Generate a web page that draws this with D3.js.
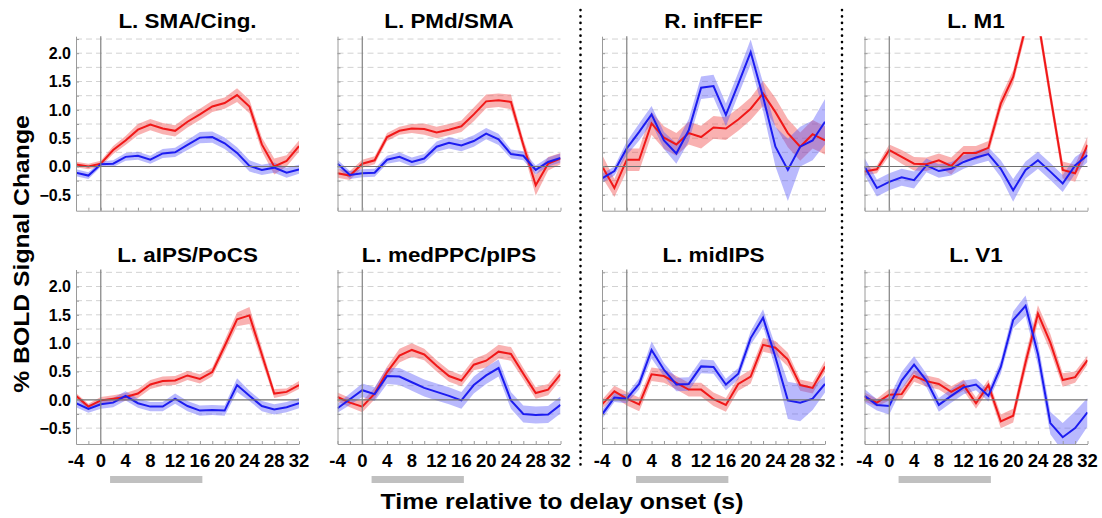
<!DOCTYPE html>
<html><head><meta charset="utf-8">
<script src="https://cdn.jsdelivr.net/npm/d3@7"></script>
<style>
body{margin:0;background:#fff}
svg{display:block}
text{font-family:"Liberation Sans",Arial,Helvetica,sans-serif;font-weight:bold;fill:#000}
</style>
</head><body>
<svg id="chart" width="1102" height="518"></svg>
<script>
// ---------- data ----------
const times = [-4,-2,0,2,4,6,8,10,12,14,16,18,20,22,24,26,28,30,32];
const xTickValues = [-4,0,4,8,12,16,20,24,28,32];
const yTickValues = [-0.5,0,0.5,1,1.5,2];
const gridValues = [-0.5,-0.25,0.25,0.5,0.75,1,1.25,1.5,1.75,2,2.25];
const titles = ["L. SMA/Cing.","L. PMd/SMA","R. infFEF","L. M1","L. aIPS/PoCS","L. medPPC/pIPS","L. midIPS","L. V1"];
const delayPeriod = [1.5, 16.4];

const smaRed    = [0.035,0.0,0.05,0.29,0.46,0.65,0.74,0.67,0.63,0.79,0.92,1.06,1.12,1.26,1.06,0.39,0.0,0.1,0.36];
const smaRedSE  = [0.05,0.05,0.05,0.07,0.08,0.1,0.1,0.1,0.1,0.1,0.1,0.1,0.1,0.12,0.12,0.12,0.14,0.1,0.1];
const smaBlue   = [-0.11,-0.16,0.04,0.05,0.17,0.19,0.12,0.23,0.25,0.38,0.51,0.52,0.41,0.24,0.01,-0.06,-0.02,-0.11,-0.05];
const smaBlueSE = [0.06,0.06,0.05,0.06,0.07,0.07,0.07,0.08,0.08,0.09,0.1,0.1,0.1,0.1,0.1,0.09,0.09,0.09,0.08];

const pmdRed    = [-0.12,-0.16,0.05,0.11,0.52,0.63,0.67,0.66,0.6,0.65,0.71,0.92,1.15,1.17,1.14,0.38,-0.33,0.05,0.14];
const pmdRedSE  = [0.08,0.08,0.07,0.07,0.07,0.07,0.08,0.1,0.1,0.1,0.1,0.12,0.12,0.12,0.13,0.1,0.18,0.12,0.1];
const pmdBlue   = [0.05,-0.15,-0.12,-0.11,0.12,0.17,0.08,0.14,0.35,0.42,0.37,0.45,0.58,0.48,0.22,0.19,-0.06,0.08,0.15];
const pmdBlueSE = [0.07,0.07,0.07,0.07,0.07,0.08,0.08,0.08,0.09,0.1,0.1,0.1,0.1,0.1,0.08,0.08,0.08,0.08,0.08];

const fefRed    = [0.01,-0.38,0.12,0.12,0.76,0.51,0.39,0.59,0.52,0.69,0.67,0.83,1.02,1.29,0.96,0.59,0.35,0.57,0.46];
const fefRedSE  = [0.2,0.16,0.2,0.2,0.2,0.2,0.2,0.2,0.2,0.2,0.2,0.2,0.2,0.22,0.25,0.25,0.25,0.25,0.25];
const fefBlue   = [-0.21,-0.08,0.32,0.61,0.92,0.46,0.23,0.64,1.39,1.42,0.91,1.46,2.02,1.23,0.35,-0.06,0.35,0.46,0.79];
const fefBlueSE = [0.08,0.08,0.12,0.15,0.15,0.15,0.18,0.2,0.2,0.2,0.2,0.2,0.22,0.25,0.35,0.55,0.35,0.35,0.4];

const m1Red     = [-0.09,-0.05,0.29,0.17,0.05,0.04,0.11,0.01,0.24,0.24,0.33,1.11,1.58,2.45,2.6,1.25,-0.06,-0.12,0.38];
const m1RedSE   = [0.07,0.07,0.1,0.12,0.12,0.12,0.12,0.15,0.12,0.12,0.12,0.12,0.12,0.12,0.15,0.15,0.15,0.15,0.15];
const m1Blue    = [0,-0.38,-0.27,-0.19,-0.24,0.02,-0.08,-0.04,0.08,0.16,0.22,-0.04,-0.42,-0.06,0.11,-0.09,-0.3,0.02,0.2];
const m1BlueSE  = [0.15,0.15,0.15,0.15,0.15,0.12,0.12,0.12,0.12,0.12,0.12,0.15,0.2,0.15,0.15,0.15,0.15,0.15,0.12];

const aipsRed    = [0.07,-0.12,-0.01,0.02,0.05,0.11,0.27,0.33,0.34,0.43,0.37,0.49,0.95,1.42,1.49,0.8,0.11,0.14,0.26];
const aipsRedSE  = [0.05,0.05,0.06,0.06,0.07,0.08,0.08,0.08,0.08,0.08,0.08,0.08,0.1,0.12,0.15,0.12,0.08,0.06,0.07];
const aipsBlue   = [-0.06,-0.16,-0.08,-0.05,0.07,-0.06,-0.12,-0.12,0.02,-0.11,-0.19,-0.18,-0.19,0.26,0.07,-0.11,-0.17,-0.13,-0.06];
const aipsBlueSE = [0.07,0.07,0.08,0.08,0.08,0.08,0.08,0.08,0.09,0.09,0.09,0.09,0.09,0.12,0.09,0.09,0.09,0.09,0.09];

const ppcRed    = [0.05,-0.05,-0.12,0.11,0.49,0.78,0.88,0.8,0.6,0.42,0.34,0.62,0.69,0.85,0.81,0.46,0.12,0.18,0.45];
const ppcRedSE  = [0.08,0.08,0.1,0.1,0.1,0.12,0.12,0.1,0.1,0.1,0.1,0.1,0.12,0.12,0.12,0.1,0.1,0.1,0.1];
const ppcBlue   = [-0.15,0.01,0.17,0.1,0.42,0.41,0.31,0.21,0.14,0.07,-0.01,0.26,0.43,0.56,-0.01,-0.25,-0.27,-0.26,-0.09];
const ppcBlueSE = [0.08,0.1,0.12,0.12,0.14,0.15,0.15,0.15,0.15,0.15,0.15,0.15,0.15,0.15,0.15,0.15,0.15,0.15,0.15];

const midRed    = [-0.08,0.15,0.02,-0.08,0.45,0.42,0.3,0.18,0.18,0.01,-0.09,0.28,0.41,0.97,0.92,0.71,0.26,0.21,0.59];
const midRedSE  = [0.08,0.1,0.12,0.12,0.12,0.12,0.12,0.12,0.12,0.12,0.12,0.12,0.12,0.12,0.12,0.12,0.1,0.1,0.1];
const midBlue   = [-0.26,0.04,0.02,0.28,0.88,0.53,0.27,0.28,0.59,0.58,0.27,0.46,1.09,1.45,0.75,-0.01,-0.05,0.02,0.28];
const midBlueSE = [0.08,0.08,0.08,0.1,0.15,0.12,0.12,0.12,0.12,0.12,0.1,0.1,0.12,0.15,0.2,0.33,0.33,0.2,0.15];

const v1Red     = [0.05,-0.05,0.09,0.1,0.42,0.33,0.28,0.14,0.26,-0.06,0.26,-0.38,-0.28,0.66,1.52,1.01,0.35,0.4,0.7];
const v1RedSE   = [0.08,0.07,0.1,0.1,0.1,0.1,0.1,0.1,0.1,0.1,0.1,0.12,0.12,0.15,0.15,0.15,0.12,0.1,0.08];
const v1Blue    = [0.07,-0.09,-0.11,0.34,0.62,0.34,-0.09,0.07,0.22,0.27,0.07,0.58,1.41,1.66,0.81,-0.41,-0.66,-0.5,-0.22];
const v1BlueSE  = [0.12,0.1,0.15,0.15,0.15,0.12,0.12,0.12,0.12,0.1,0.1,0.12,0.15,0.18,0.2,0.2,0.25,0.3,0.25];

const panels = [
  {title:titles[0], red:smaRed, redSE:smaRedSE, blue:smaBlue, blueSE:smaBlueSE},
  {title:titles[1], red:pmdRed, redSE:pmdRedSE, blue:pmdBlue, blueSE:pmdBlueSE},
  {title:titles[2], red:fefRed, redSE:fefRedSE, blue:fefBlue, blueSE:fefBlueSE},
  {title:titles[3], red:m1Red, redSE:m1RedSE, blue:m1Blue, blueSE:m1BlueSE},
  {title:titles[4], red:aipsRed, redSE:aipsRedSE, blue:aipsBlue, blueSE:aipsBlueSE},
  {title:titles[5], red:ppcRed, redSE:ppcRedSE, blue:ppcBlue, blueSE:ppcBlueSE},
  {title:titles[6], red:midRed, redSE:midRedSE, blue:midBlue, blueSE:midBlueSE},
  {title:titles[7], red:v1Red, redSE:v1RedSE, blue:v1Blue, blueSE:v1BlueSE}
];

// ---------- layout ----------
const colLeft = [76, 337.5, 602, 864.5];
const panelW = 223;
const rowTop = [36.2, 269.5];
const panelH = 174.5;
const yDomain = [-0.78, 2.3];

const svg = d3.select("#chart");
const defs = svg.append("defs");

panels.forEach((p, i) => {
  const col = i % 4, row = Math.floor(i / 4);
  const L = colLeft[col], T = rowTop[row], B = T + panelH, R = L + panelW;
  const x = d3.scaleLinear().domain([-4, 32]).range([L, R]);
  const y = d3.scaleLinear().domain(yDomain).range([B, T]);
  const g = svg.append("g");

  // title
  g.append("text")
    .attr("transform", `translate(${(L + R) / 2},${T - 8}) scale(1.15,1)`)
    .attr("text-anchor", "middle")
    .style("font-size", "19.5px")
    .text(p.title);

  // dashed grid
  g.selectAll("line.grid").data(gridValues).enter().append("line")
    .attr("x1", L).attr("x2", R)
    .attr("y1", d => y(d)).attr("y2", d => y(d))
    .attr("stroke", "#d2d2d2").attr("stroke-width", 1)
    .attr("stroke-dasharray", "6,4");

  // clip
  const cid = "clip" + i;
  defs.append("clipPath").attr("id", cid).append("rect")
    .attr("x", L).attr("y", T).attr("width", panelW).attr("height", panelH);
  const plot = g.append("g").attr("clip-path", `url(#${cid})`);

  const area = (m, se) => d3.area()
    .x((d, k) => x(times[k]))
    .y0((d, k) => y(m[k] - se[k]))
    .y1((d, k) => y(m[k] + se[k]))(m);
  const line = m => d3.line().x((d, k) => x(times[k])).y(d => y(d))(m);

  plot.append("path").attr("d", area(p.red, p.redSE))
    .attr("fill", "rgb(240,60,60)").attr("fill-opacity", 0.4);
  plot.append("path").attr("d", area(p.blue, p.blueSE))
    .attr("fill", "rgb(80,80,250)").attr("fill-opacity", 0.4);

  // zero line and onset line
  g.append("line").attr("x1", L).attr("x2", R).attr("y1", y(0)).attr("y2", y(0))
    .attr("stroke", "#707070").attr("stroke-width", 1.2);
  g.append("line").attr("x1", x(0)).attr("x2", x(0)).attr("y1", T).attr("y2", B)
    .attr("stroke", "#808080").attr("stroke-width", 1.2);

  plot.append("path").attr("d", line(p.red))
    .attr("fill", "none").attr("stroke", "#f01818").attr("stroke-width", 2);
  plot.append("path").attr("d", line(p.blue))
    .attr("fill", "none").attr("stroke", "#1c1cf0").attr("stroke-width", 2);

  // axes
  const xAxis = d3.axisBottom(x).tickValues(times).tickSizeInner(-3).tickSizeOuter(0)
    .tickFormat("");
  const gx = g.append("g").attr("transform", `translate(0,${B})`).call(xAxis);
  gx.select(".domain").attr("stroke", "#9a9a9a");
  gx.selectAll(".tick line").attr("stroke", "#9a9a9a");

  const yAxis = d3.axisLeft(y).tickValues(gridValues.concat([0])).tickSizeInner(-3).tickSizeOuter(0)
    .tickFormat("");
  const gy = g.append("g").attr("transform", `translate(${L},0)`).call(yAxis);
  gy.select(".domain").attr("stroke", "#9a9a9a");
  gy.selectAll(".tick line").attr("stroke", "#9a9a9a");

  if (col === 0) {
    g.selectAll("text.ytl").data(yTickValues).enter().append("text")
      .attr("x", L - 5).attr("y", d => y(d)).attr("dy", "0.36em")
      .attr("text-anchor", "end").style("font-size", "16px")
      .text(d => d3.format(".1f")(d));
  }
  if (row === 1) {
    g.selectAll("text.xtl").data(xTickValues).enter().append("text")
      .attr("x", d => x(d)).attr("y", B + 22.5)
      .attr("text-anchor", "middle").style("font-size", "18.5px")
      .text(d => d);
    g.append("rect")
      .attr("x", x(delayPeriod[0])).attr("width", x(delayPeriod[1]) - x(delayPeriod[0]))
      .attr("y", 476).attr("height", 7).attr("fill", "#c0c0c0");
  }
});

// separators
[580.5, 842].forEach(sx => {
  svg.append("line").attr("x1", sx).attr("x2", sx).attr("y1", 10).attr("y2", 469)
    .attr("stroke", "#000").attr("stroke-width", 2.6)
    .attr("stroke-linecap", "round").attr("stroke-dasharray", "0.1,6.3");
});

// axis titles
svg.append("text")
  .attr("transform", "translate(29,254) rotate(-90) scale(1.1,1)")
  .attr("text-anchor", "middle").style("font-size", "22.5px")
  .text("% BOLD Signal Change");
svg.append("text")
  .attr("transform", "translate(562,509) scale(1.13,1)")
  .attr("text-anchor", "middle").style("font-size", "22px")
  .text("Time relative to delay onset (s)");
</script>
</body></html>
